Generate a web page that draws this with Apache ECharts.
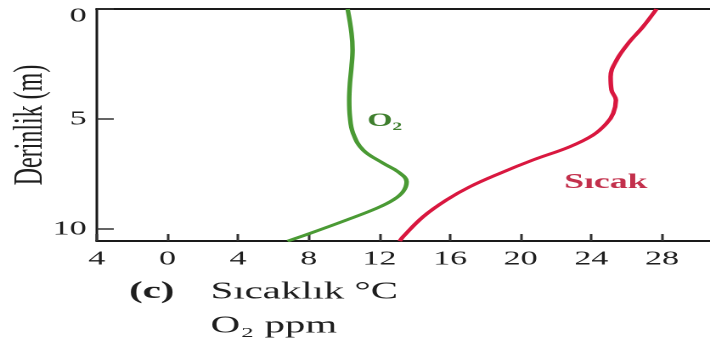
<!DOCTYPE html>
<html>
<head>
<meta charset="utf-8">
<script src="https://cdn.jsdelivr.net/npm/echarts@6/dist/echarts.min.js"></script>
<style>
html,body{margin:0;padding:0;background:#fff;overflow:hidden;}
#wrap{width:710px;height:345px;overflow:hidden;position:relative;}
#chart{width:418px;height:345px;transform:scaleX(1.6986);transform-origin:0 0;position:absolute;left:0;top:0;}
</style>
</head>
<body>
<div id="wrap"><div id="chart"></div></div>
<script>
// Tick values and labels
const depthTicks = [0, 5, 10];
const tempTicks = [-4, 0, 4, 8, 12, 16, 20, 24, 28];
const tempTickLabels = ['4', '0', '4', '8', '12', '16', '20', '24', '28'];

// O2 (ppm) profile vs depth (m)
const o2Values = [10.2, 10.42, 10.48, 10.42, 10.33, 10.29, 10.33, 10.51, 11.08, 12.21, 13.06, 13.54, 13.34, 12.78, 11.84, 10.14, 8.06, 6.8];
const o2Depths = [0, 1.1, 1.86, 2.62, 3.38, 4.14, 4.9, 5.65, 6.41, 7.01, 7.4, 7.85, 8.3, 8.68, 9.06, 9.59, 10.2, 10.55];

// Temperature (°C) profile vs depth (m)
const tempValues = [27.69, 26.93, 26.09, 25.43, 25.09, 25.14, 25.39, 25.24, 24.86, 24.1, 22.78, 20.71, 18.82, 17.12, 15.8, 14.48, 13.34, 13.15];
const tempDepths = [0, 0.8, 1.56, 2.32, 3.08, 3.68, 4.14, 4.74, 5.2, 5.73, 6.26, 6.86, 7.47, 8.08, 8.68, 9.44, 10.35, 10.55];

const xMin = -4, xMax = 30.72, yMin = 0, yMax = 10.545;
const serif = 'Liberation Serif';

const chart = echarts.init(document.getElementById('chart'), null, {renderer: 'canvas', devicePixelRatio: 2});
chart.setOption({
  animation: false,
  backgroundColor: '#fff',
  grid: {left: 57, right: 0, top: 9, bottom: 104, containLabel: false, outerBoundsMode: 'none'},
  xAxis: [{
    type: 'value', min: xMin, max: xMax, position: 'bottom',
    axisLine: {show: true, onZero: false, lineStyle: {color: '#1a1a1a', width: 2}},
    axisTick: {show: true, inside: true, length: 7, customValues: tempTicks, lineStyle: {color: '#333', width: 1.5}},
    axisLabel: {show: true, customValues: tempTicks, margin: 8, fontFamily: serif, fontSize: 20, color: '#1e1e1e',
      formatter: v => { const i = tempTicks.indexOf(v); return i >= 0 ? tempTickLabels[i] : ''; }},
    splitLine: {show: false}
  }, {
    type: 'value', min: xMin, max: xMax, position: 'top',
    axisLine: {show: true, onZero: false, lineStyle: {color: '#1a1a1a', width: 2}},
    axisTick: {show: false}, axisLabel: {show: false}, splitLine: {show: false}
  }],
  yAxis: {
    type: 'value', min: yMin, max: yMax, inverse: true, position: 'left',
    name: 'Derinlik (m)', nameLocation: 'middle', nameRotate: 90, nameGap: 27, nameMoveOverlap: false,
    nameTextStyle: {fontFamily: serif, fontSize: 24, color: '#1e1e1e'},
    axisLine: {show: true, onZero: false, lineStyle: {color: '#1a1a1a', width: 1.5}},
    axisTick: {show: true, inside: true, length: 10, customValues: depthTicks, lineStyle: {color: '#333', width: 1.5}},
    axisLabel: {show: true, customValues: depthTicks, margin: 6, fontFamily: serif, fontSize: 20, color: '#1e1e1e',
      formatter: v => v === 0 ? '{t|0}' : String(v),
      rich: {t: {fontFamily: serif, fontSize: 20, color: '#1e1e1e', padding: [14, 0, 0, 0]}}},
    splitLine: {show: false}
  },
  series: [{
    name: 'O₂', type: 'line', smooth: 0.4, symbol: 'none', xAxisIndex: 0,
    lineStyle: {color: '#4a9a34', width: 2.7},
    data: o2Values.map((v, i) => [v, o2Depths[i]]),
    markPoint: {symbol: 'circle', symbolSize: 0, silent: true,
      data: [{coord: [12.3, 5.1], label: {show: true, position: 'inside', formatter: 'O₂', fontFamily: serif, fontWeight: 'bold', fontSize: 19, color: '#3f7f2e'}}]}
  }, {
    name: 'Sıcaklık', type: 'line', smooth: 0.4, symbol: 'none', xAxisIndex: 0,
    lineStyle: {color: '#d9173f', width: 2.7},
    data: tempValues.map((v, i) => [v, tempDepths[i]]),
    markPoint: {symbol: 'circle', symbolSize: 0, silent: true,
      data: [{coord: [24.82, 7.9], label: {show: true, position: 'inside', formatter: 'Sıcak', fontFamily: serif, fontWeight: 'bold', fontSize: 21, color: '#c3304c'}}]}
  }],
  graphic: [
    {type: 'text', left: 76, top: 280, style: {text: '(c)', fontFamily: serif, fontWeight: 'bold', fontSize: 24, fill: '#1e1e1e'}},
    {type: 'text', left: 124, top: 280, style: {text: 'Sıcaklık °C', fontFamily: serif, fontSize: 24, fill: '#1e1e1e'}},
    {type: 'text', left: 124, top: 314, style: {text: 'O₂ ppm', fontFamily: serif, fontSize: 24, fill: '#1e1e1e'}}
  ]
});
</script>
</body>
</html>
